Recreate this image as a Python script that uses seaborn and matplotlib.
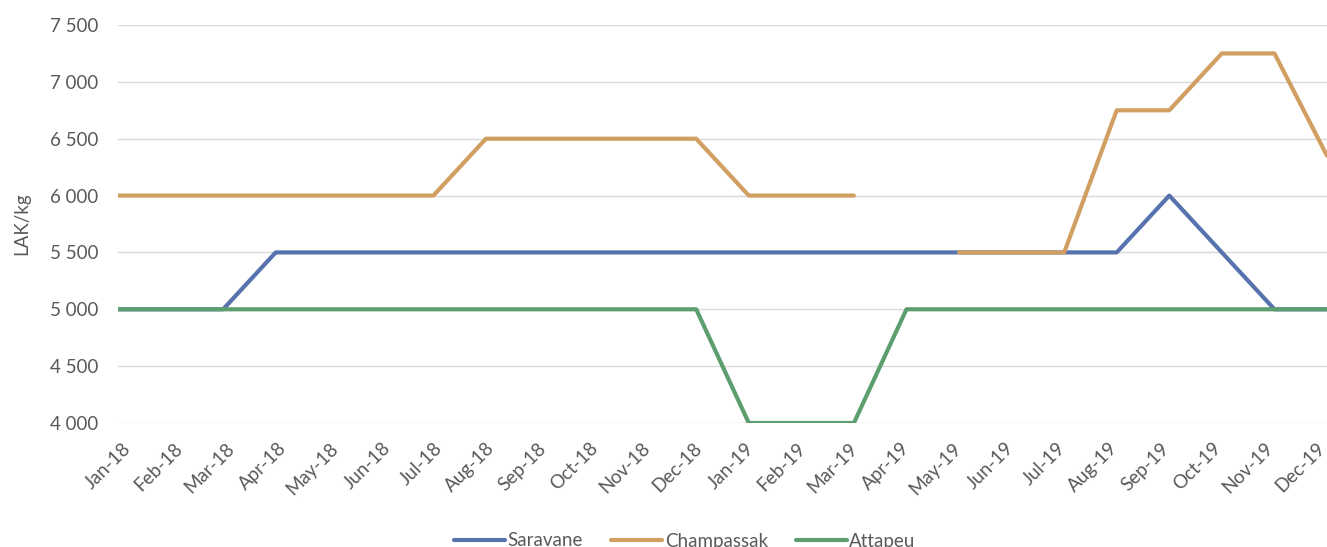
import numpy as np
import pandas as pd
import matplotlib
matplotlib.use("Agg")
import matplotlib.pyplot as plt
import matplotlib.transforms as mtransforms
import seaborn as sns
from matplotlib.ticker import FuncFormatter
from matplotlib.lines import Line2D

# monthly labels
months = ["Jan-18", "Feb-18", "Mar-18", "Apr-18", "May-18", "Jun-18", "Jul-18", "Aug-18",
          "Sep-18", "Oct-18", "Nov-18", "Dec-18", "Jan-19", "Feb-19", "Mar-19", "Apr-19",
          "May-19", "Jun-19", "Jul-19", "Aug-19", "Sep-19", "Oct-19", "Nov-19", "Dec-19"]

# prices, LAK/kg
saravane = [5000, 5000, 5000, 5500, 5500, 5500, 5500, 5500, 5500, 5500, 5500, 5500,
            5500, 5500, 5500, 5500, 5500, 5500, 5500, 5500, 6000, 5500, 5000, 5000]
champassak = [6000, 6000, 6000, 6000, 6000, 6000, 6000, 6500, 6500, 6500, 6500, 6500,
              6000, 6000, 6000, np.nan, 5500, 5500, 5500, 6750, 6750, 7250, 7250, 6350]
attapeu = [5000, 5000, 5000, 5000, 5000, 5000, 5000, 5000, 5000, 5000, 5000, 5000,
           4000, 4000, 4000, 5000, 5000, 5000, 5000, 5000, 5000, 5000, 5000, 5000]

series_names = ["Saravane", "Champassak", "Attapeu"]
colors = ["#5673ae", "#d19f62", "#5c9e6e"]

# long format, split each series into segments at gaps
rows = []
for name, vals in zip(series_names, [saravane, champassak, attapeu]):
    seg = 0
    for i, v in enumerate(vals):
        if np.isnan(v):
            seg += 1
            continue
        rows.append({"x": i, "price": v, "series": name, "seg": f"{name}{seg}"})
df = pd.DataFrame(rows)

sns.set_style("white")
plt.rcParams["font.family"] = ["Lato", "DejaVu Sans"]
txt_col = "#595959"
fs = 13.5

fig = plt.figure(figsize=(13.27, 5.47), dpi=100)
ax = fig.add_axes([118 / 1327, 124 / 547, 1 - 118 / 1327, 398 / 547])

sns.lineplot(data=df, x="x", y="price", hue="series", units="seg", estimator=None,
             palette=dict(zip(series_names, colors)), hue_order=series_names,
             linewidth=3, ax=ax, legend=False, solid_capstyle="round")

ax.set_xlim(0, 23)
ax.set_ylim(4000, 7500)
ax.set_yticks(np.arange(4000, 7501, 500))
ax.yaxis.set_major_formatter(FuncFormatter(lambda v, p: f"{int(v):,}".replace(",", " ")))
ax.set_xticks(range(len(months)))
ax.set_xticklabels(months, rotation=45, ha="right", rotation_mode="anchor")
ax.grid(axis="y", color="#d9d9d9", linewidth=1.0)
ax.set_axisbelow(True)
for s in ax.spines.values():
    s.set_visible(False)
ax.tick_params(axis="both", length=0, labelsize=fs, colors=txt_col)
ax.tick_params(axis="y", pad=14)
ax.tick_params(axis="x", pad=12)
ax.set_xlabel("")
ax.set_ylabel("LAK/kg", fontsize=fs, color=txt_col, labelpad=14)

# labels drift slightly left towards the right end, like the original
n = len(months)
for i, lab in enumerate(ax.get_xticklabels()):
    dx = (3 - 11 * i / (n - 1)) / 72
    lab.set_transform(lab.get_transform() + mtransforms.ScaledTranslation(dx, 0, fig.dpi_scale_trans))

handles = [Line2D([0], [0], color=c, lw=3, solid_capstyle="round") for c in colors]
fig.legend(handles, series_names, loc="center", bbox_to_anchor=(685 / 1327, 6 / 547),
           ncol=3, frameon=False, fontsize=fs, labelcolor=txt_col,
           handlelength=2.7, handletextpad=0.15, columnspacing=1.5)

fig.savefig("out.png", dpi=100)
